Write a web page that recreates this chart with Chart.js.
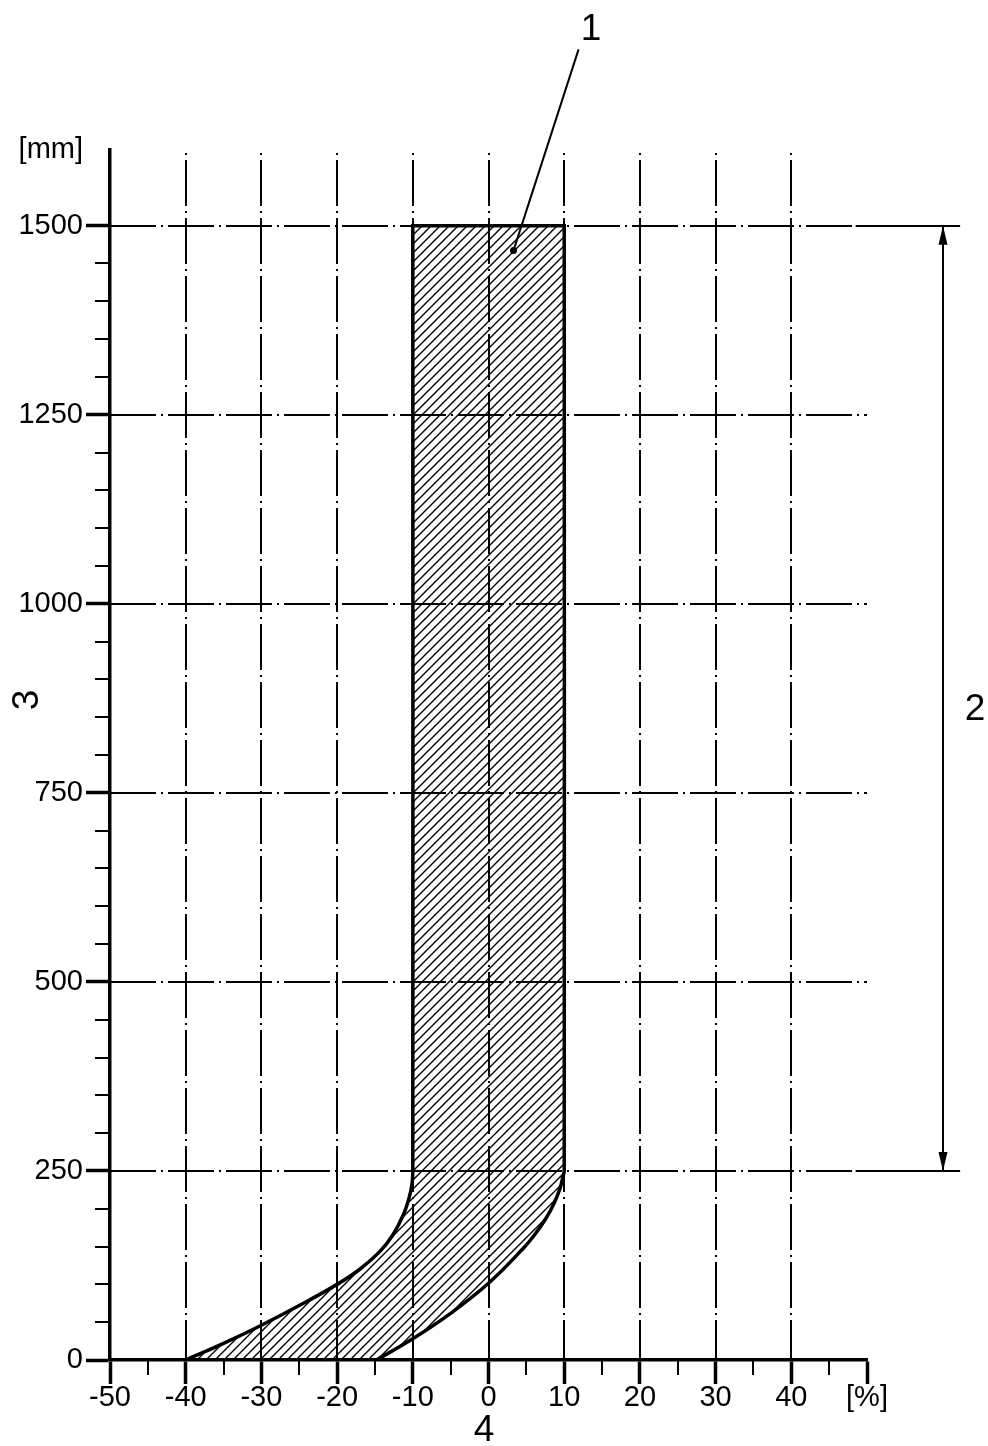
<!DOCTYPE html>
<html>
<head>
<meta charset="utf-8">
<script src="https://cdn.jsdelivr.net/npm/chart.js@4.4.1/dist/chart.umd.min.js"></script>
<style>
  html, body { margin: 0; padding: 0; background: #fff; }
  #wrap { width: 988px; height: 1446px; position: relative; }
</style>
</head>
<body>
<div id="wrap"><canvas id="c" width="988" height="1446"></canvas></div>
<script>
// Tolerance band: deviation [%] versus height [mm]
// Left boundary, from the bottom upwards
const leftX = [-40, -35, -30, -25, -20, -17, -14.3, -12.6, -11.25, -10.5, -10.1, -10, -10];
const leftY = [0, 22, 46, 72, 100, 120, 144, 166, 192, 214, 233, 250, 1500];
// Right boundary, from the top downwards
const rightX = [10, 10, 9.84, 9.45, 8.65, 7.6, 6.14, 4.6, 0, -5.1, -9.9, -14.8];
const rightY = [1500, 250, 242.7, 226.9, 207, 187.4, 166.3, 147.7, 101.5, 61, 28.7, 0];

// Axis ranges and tick steps
const xMin = -50, xMax = 50, xMajor = 10, xMinor = 5;
const yMin = 0, yMax = 1600, yMajor = 250, yMinor = 50;
const yGridValues = [250, 500, 750, 1000, 1250, 1500];
const xGridValues = [-40, -30, -20, -10, 0, 10, 20, 30, 40];
const xUnitLabel = '[%]';
const yUnitLabel = '[mm]';

// Callouts: 1 = band, 2 = height range, 3 = height axis, 4 = deviation axis
const calloutLeader = { from: [11.9, 1733], to: [3.3, 1467] };
const dimension = { x: 60, from: 250, to: 1500, extFrom: 48.5, extTo: 62.3 };

const FONT = "'Liberation Sans', Arial, Helvetica, sans-serif";

// Closed outline of the band; corners are doubled so the spline stays sharp there
function buildOutline() {
  const pts = [];
  for (let i = 0; i < leftX.length; i++) pts.push({ x: leftX[i], y: leftY[i] });
  pts.push({ x: leftX[leftX.length - 1], y: leftY[leftY.length - 1] });
  pts.push({ x: rightX[0], y: rightY[0] });
  for (let i = 0; i < rightX.length; i++) pts.push({ x: rightX[i], y: rightY[i] });
  pts.push({ x: rightX[rightX.length - 1], y: rightY[rightY.length - 1] });
  pts.push({ x: leftX[0], y: leftY[0] });
  pts.push({ x: leftX[0], y: leftY[0] });
  return pts;
}

// Diagonal hatching "/"
function hatchPattern(step, width) {
  const c = document.createElement('canvas');
  c.width = step; c.height = step;
  const g = c.getContext('2d');
  g.strokeStyle = '#000';
  g.lineWidth = width;
  g.beginPath();
  g.moveTo(-1, step + 1); g.lineTo(step + 1, -1);
  g.moveTo(-1, 1); g.lineTo(1, -1);
  g.moveTo(step - 1, step + 1); g.lineTo(step + 1, step - 1);
  g.stroke();
  return g.createPattern(c, 'repeat');
}

function range(a, b, s) { const r = []; for (let v = a; v <= b + 1e-9; v += s) r.push(Math.round(v * 1000) / 1000); return r; }

const isMultiple = (v, m) => Math.abs(v / m - Math.round(v / m)) < 1e-9;

const drawingPlugin = {
  id: 'drawing',
  beforeDatasetsDraw(chart) {
    const { ctx } = chart;
    const xs = chart.scales.x, ys = chart.scales.y;
    ctx.save();
    ctx.strokeStyle = '#000';
    ctx.lineWidth = 2;
    // dash-dot vertical grid, starting with the dot at the top
    ctx.setLineDash([2, 5, 46, 5]);
    const yTop = ys.getPixelForValue(1596), yBot = ys.getPixelForValue(0);
    xGridValues.forEach(v => {
      const x = Math.round(xs.getPixelForValue(v));
      ctx.beginPath(); ctx.moveTo(x, yTop); ctx.lineTo(x, yBot); ctx.stroke();
    });
    // dash-dot horizontal grid
    ctx.setLineDash([46, 5, 2, 5]);
    const xL = xs.getPixelForValue(xMin), xR = xs.getPixelForValue(xMax);
    yGridValues.forEach(v => {
      const y = Math.round(ys.getPixelForValue(v));
      ctx.beginPath(); ctx.moveTo(xL, y); ctx.lineTo(xR, y); ctx.stroke();
    });
    ctx.setLineDash([]);
    // extension lines for the height dimension
    [dimension.from, dimension.to].forEach(v => {
      const y = Math.round(ys.getPixelForValue(v));
      ctx.beginPath();
      ctx.moveTo(xs.getPixelForValue(dimension.extFrom), y);
      ctx.lineTo(xs.getPixelForValue(dimension.extTo), y);
      ctx.stroke();
    });
    // minor ticks
    const x0 = xs.getPixelForValue(xMin), y0 = ys.getPixelForValue(yMin);
    range(xMin, xMax, xMinor).filter(v => !isMultiple(v, xMajor)).forEach(v => {
      const x = Math.round(xs.getPixelForValue(v));
      ctx.beginPath(); ctx.moveTo(x, y0); ctx.lineTo(x, y0 + 15); ctx.stroke();
    });
    range(yMin, 1500, yMinor).filter(v => !isMultiple(v, yMajor)).forEach(v => {
      const y = Math.round(ys.getPixelForValue(v));
      ctx.beginPath(); ctx.moveTo(x0 - 15, y); ctx.lineTo(x0, y); ctx.stroke();
    });
    ctx.restore();
  },
  afterDatasetsDraw(chart) {
    const { ctx } = chart;
    const xs = chart.scales.x, ys = chart.scales.y;
    const px = v => xs.getPixelForValue(v), py = v => ys.getPixelForValue(v);
    ctx.save();
    ctx.strokeStyle = '#000';
    ctx.fillStyle = '#000';
    ctx.lineWidth = 2;
    // leader for callout 1
    const a = calloutLeader.from, b = calloutLeader.to;
    ctx.beginPath(); ctx.moveTo(px(a[0]), py(a[1])); ctx.lineTo(px(b[0]), py(b[1])); ctx.stroke();
    ctx.beginPath(); ctx.arc(px(b[0]), py(b[1]), 3.5, 0, Math.PI * 2); ctx.fill();
    // height dimension with arrows
    const dx = Math.round(px(dimension.x)), dTop = py(dimension.to), dBot = py(dimension.from);
    ctx.beginPath(); ctx.moveTo(dx, dTop); ctx.lineTo(dx, dBot); ctx.stroke();
    const arrow = (y, dir) => {
      ctx.beginPath();
      ctx.moveTo(dx, y);
      ctx.lineTo(dx - 4.5, y + dir * 19);
      ctx.lineTo(dx + 4.5, y + dir * 19);
      ctx.closePath(); ctx.fill();
    };
    arrow(dTop, 1); arrow(dBot, -1);
    // callout numbers
    ctx.font = '37px ' + FONT;
    ctx.textAlign = 'center';
    ctx.textBaseline = 'middle';
    ctx.fillText('1', 591, 30);
    ctx.fillText('2', 975, 710);
    ctx.fillText('4', 484, 1431);
    ctx.translate(28, 700);
    ctx.rotate(-Math.PI / 2);
    ctx.fillText('3', 0, 0);
    ctx.restore();
  }
};

const ctx = document.getElementById('c').getContext('2d');
new Chart(ctx, {
  type: 'line',
  data: {
    datasets: [{
      data: buildOutline(),
      fill: 'shape',
      backgroundColor: hatchPattern(9, 1.4),
      borderColor: '#000',
      borderWidth: 3.5,
      pointRadius: 0,
      tension: 0.4
    }]
  },
  options: {
    responsive: false,
    animation: false,
    devicePixelRatio: 1,
    layout: { padding: { left: 0, right: 121, top: 150, bottom: 0 } },
    plugins: { legend: { display: false }, tooltip: { enabled: false } },
    scales: {
      x: {
        type: 'linear', min: xMin, max: xMax,
        afterFit(s) { s.height = 86; },
        afterBuildTicks(s) { s.ticks = range(xMin, xMax, xMinor).map(v => ({ value: v })); },
        ticks: {
          autoSkip: false, maxRotation: 0, padding: -3, color: '#000',
          font: { family: FONT, size: 29 },
          callback: v => v === xMax ? xUnitLabel : (isMultiple(v, xMajor) ? String(v) : '')
        },
        grid: {
          drawOnChartArea: false, tickLength: 24,
          tickColor: c => isMultiple(c.tick.value, xMajor) ? '#000' : 'rgba(0,0,0,0)',
          tickWidth: 3.5
        },
        border: { color: '#000', width: 3.5 }
      },
      y: {
        type: 'linear', min: yMin, max: yMax,
        afterFit(s) { s.width = 110; },
        afterBuildTicks(s) { s.ticks = range(yMin, yMax, yMinor).map(v => ({ value: v })); },
        ticks: {
          autoSkip: false, padding: 3, color: '#000',
          font: { family: FONT, size: 29 },
          callback: v => v === yMax ? yUnitLabel : (isMultiple(v, yMajor) ? String(v) : '')
        },
        grid: {
          drawOnChartArea: false, tickLength: 24,
          tickColor: c => (isMultiple(c.tick.value, yMajor) && c.tick.value <= 1500) ? '#000' : 'rgba(0,0,0,0)',
          tickWidth: 3.5
        },
        border: { color: '#000', width: 3.5 }
      }
    }
  },
  plugins: [drawingPlugin]
});
</script>
</body>
</html>
